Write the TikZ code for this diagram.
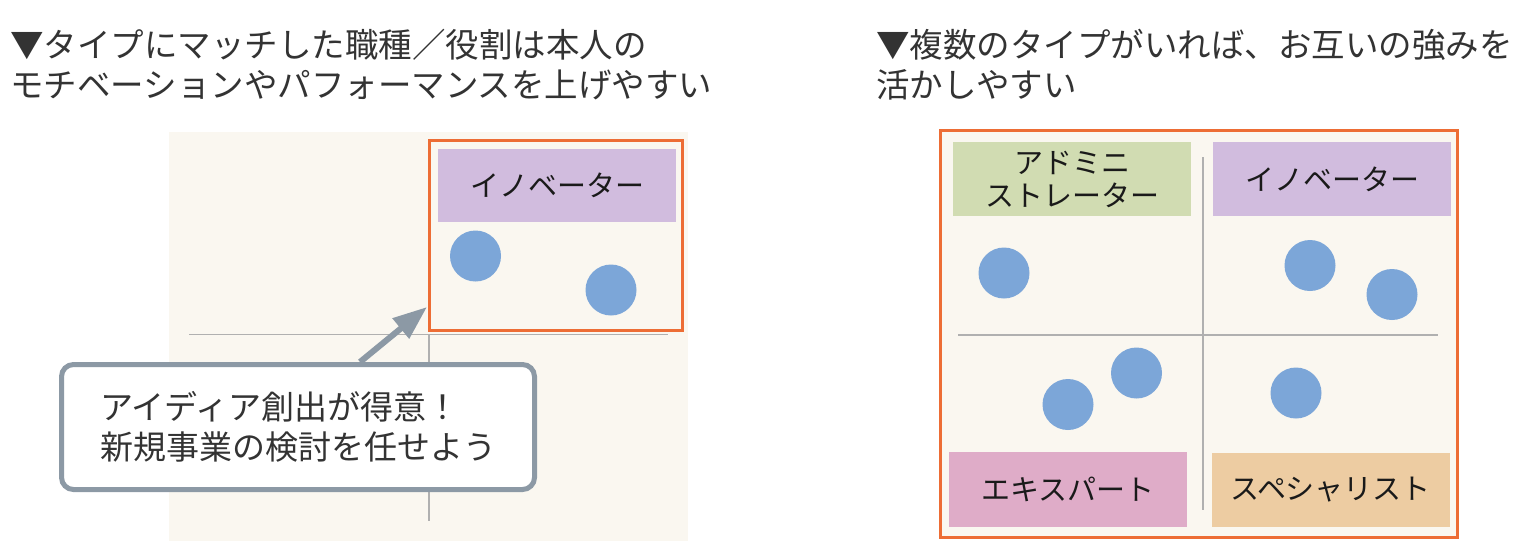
\documentclass[tikz,border=0pt]{standalone}
\usepackage{fontspec}
\setmainfont{Noto Sans CJK JP}
\usetikzlibrary{arrows.meta,positioning}
\definecolor{bgbeige}{HTML}{FAF7F0}
\definecolor{hiorange}{HTML}{ED6D35}
\definecolor{innovpurple}{HTML}{D1BCDE}
\definecolor{admingreen}{HTML}{D1DCB2}
\definecolor{expertpink}{HTML}{DFACC8}
\definecolor{specialtan}{HTML}{EDCCA2}
\definecolor{dotblue}{HTML}{7CA6D8}
\definecolor{axisgray}{HTML}{B0B0B0}
\definecolor{bubblegray}{HTML}{8C99A5}
\definecolor{headgray}{HTML}{333333}
\definecolor{roletext}{HTML}{1A1A1A}

\begin{document}
\begin{tikzpicture}[x=1pt,y=-1pt]
    \tikzstyle{heading}=[anchor=west, inner sep=0pt, align=left, text=headgray, font=\fontsize{33.5}{40}\selectfont]
    \tikzstyle{rolebox}=[minimum width=238, minimum height=74, inner sep=0pt, align=center, text=roletext, font=\fontsize{29}{33}\selectfont]
    \tikzstyle{dot}=[circle, fill=dotblue, minimum size=51, inner sep=0pt]
    \tikzstyle{axisline}=[draw=axisgray, line width=1.5pt]
    \tikzstyle{hilite}=[draw=hiorange, line width=3pt, inner sep=0pt]
    \tikzstyle{bubble}=[draw=bubblegray, line width=5pt, fill=white, rounded corners=12pt, minimum width=473, minimum height=125, align=left, text=headgray, font=\fontsize{33}{40}\selectfont]
    \tikzstyle{pointer}=[draw=bubblegray, line width=6pt, -{Triangle[length=34pt,width=25pt]}]

    \useasboundingbox (0,0) rectangle (1516,550);

    % left panel
    \node[heading] (headL) at (10,65) {▼タイプにマッチした職種／役割は本人の\\モチベーションやパフォーマンスを上げやすい};
    \fill[bgbeige] (169,132) rectangle (688,541);
    \draw[axisline] (189,334.5) -- (668,334.5);
    \draw[axisline] (429,334.5) -- (429,521);
    \node[hilite, minimum width=253, minimum height=190] (pick) at (556,235.5) {};
    \node[rolebox, fill=innovpurple, minimum height=73] (innovL) at (557,185.5) {イノベーター};
    \node[dot] (dotL1) at (475.5,256) {};
    \node[dot] (dotL2) at (611,290) {};
    \node[bubble] (bubble) at (298,427) {アイディア創出が得意！\\新規事業の検討を任せよう};
    \coordinate (tip) at (427,307);
    \draw[pointer] ([xshift=62]bubble.north) -- (tip);

    % right panel
    \node[heading] (headR) at (876,65) {▼複数のタイプがいれば、お互いの強みを\\活かしやすい};
    \node[hilite, fill=bgbeige, minimum width=517, minimum height=407] (team) at (1199,333.5) {};
    \draw[axisline] (958,335) -- (1438,335);
    \draw[axisline] (1203,157) -- (1203,510);
    \node[rolebox, fill=admingreen] (admin) at (1072,179) {アドミニ\\ストレーター};
    \node[rolebox, fill=innovpurple] (innovR) at (1332,179) {イノベーター};
    \node[rolebox, fill=expertpink, minimum height=75] (expert) at (1068,489.5) {エキスパート};
    \node[rolebox, fill=specialtan] (special) at (1330.5,490) {スペシャリスト};
    \foreach \n/\x/\y in {a/1004/273, b/1310/265.5, c/1392/294.5, d/1136.5/373, e/1068/404.5, f/1296/393}
      \node[dot] (dotR\n) at (\x,\y) {};
\end{tikzpicture}
\end{document}
